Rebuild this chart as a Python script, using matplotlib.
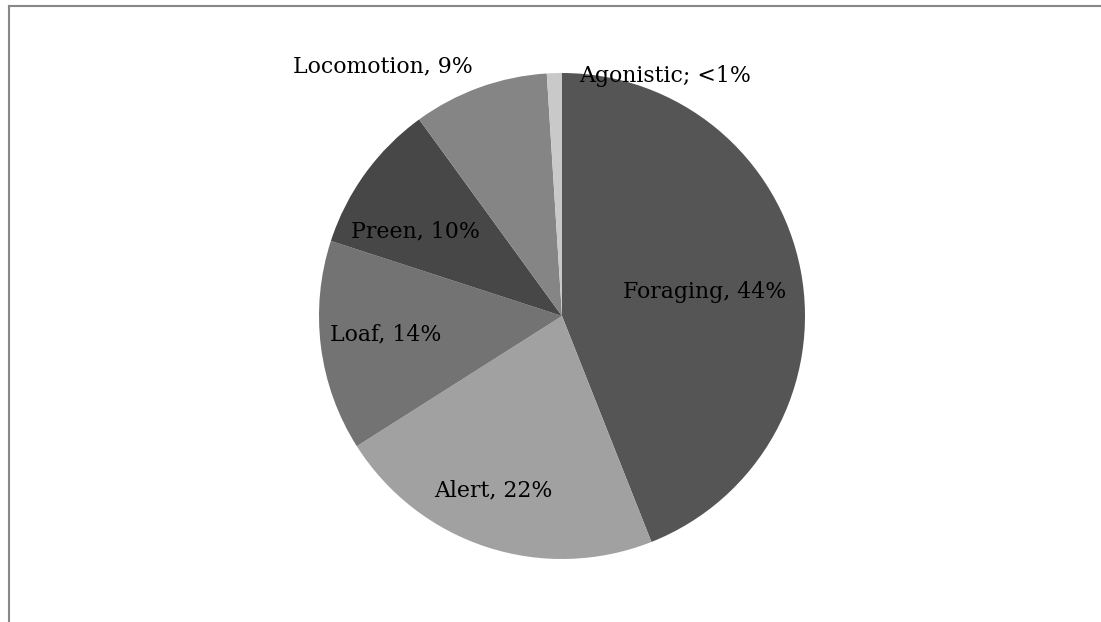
import matplotlib
matplotlib.use("Agg")
import matplotlib.pyplot as plt
from matplotlib.lines import Line2D

# Activity budget
categories = ["Foraging", "Alert", "Loaf", "Preen", "Locomotion", "Agonistic"]
values = [44, 22, 14, 10, 9, 1]
labels = ["Foraging, 44%", "Alert, 22%", "Loaf, 14%", "Preen, 10%",
          "Locomotion, 9%", "Agonistic; <1%"]
colors = ["#555555", "#a1a1a1", "#737373", "#474747", "#858585", "#c9c9c9"]

# label anchor points in data units (pie radius = 1)
label_pos = [(0.588, 0.099), (-0.284, -0.716), (-0.726, -0.074),
             (-0.603, 0.350), (-0.737, 1.025), (0.424, 0.988)]

W, H, DPI = 1101, 622, 100
fig = plt.figure(figsize=(W / DPI, H / DPI), dpi=DPI)
fig.patch.set_facecolor("white")

cx, cy, r = 562, 622 - 316, 243
ax = fig.add_axes([(cx - r) / W, (cy - r) / H, 2 * r / W, 2 * r / H])
ax.pie(values, colors=colors, startangle=90, counterclock=False,
       radius=1, wedgeprops=dict(linewidth=0))
ax.set_xlim(-1, 1)
ax.set_ylim(-1, 1)
ax.set_aspect("equal")
ax.axis("off")

for text, (x, y) in zip(labels, label_pos):
    ax.text(x, y, text, ha="center", va="center", fontsize=15.8,
            family="DejaVu Serif", color="black")

# chart frame edges
fig.add_artist(Line2D([8.5 / W, 1.0], [1 - 5.5 / H, 1 - 5.5 / H],
                      transform=fig.transFigure, color="#888888", lw=1.5))
fig.add_artist(Line2D([8.5 / W, 8.5 / W], [0.0, 1 - 5.5 / H],
                      transform=fig.transFigure, color="#888888", lw=1.5))

fig.savefig("out.png", dpi=DPI, facecolor="white")
